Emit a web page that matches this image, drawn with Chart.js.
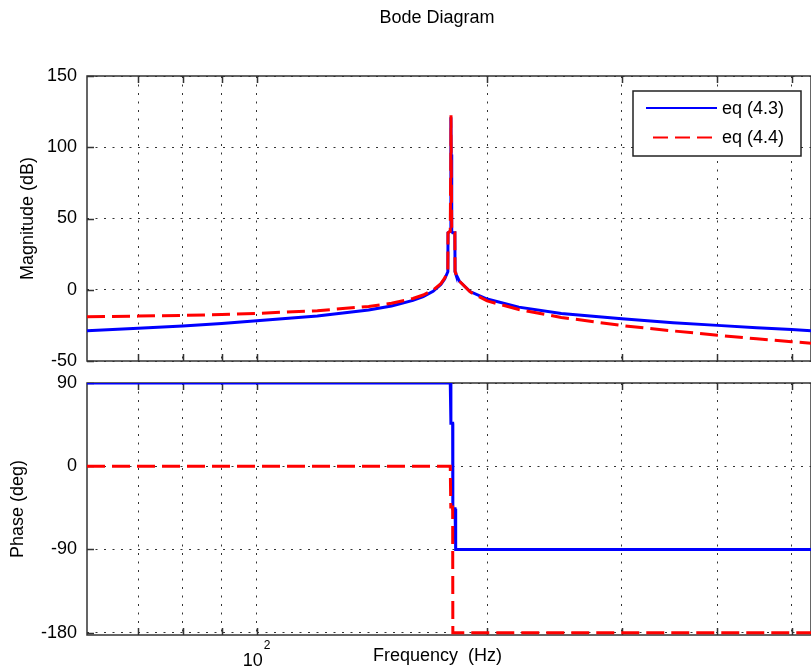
<!DOCTYPE html>
<html>
<head>
<meta charset="utf-8">
<title>Bode Diagram</title>
<script src="https://cdn.jsdelivr.net/npm/chart.js@4.4.1/dist/chart.umd.min.js"></script>
<style>
  html, body { margin: 0; padding: 0; background: #fff; overflow: hidden; }
  #wrap { position: relative; width: 811px; height: 671px; }
  #wrap canvas { position: absolute; left: 0; top: 0; }
</style>
</head>
<body>
<div id="wrap">
  <canvas id="mag-chart" width="811" height="671"></canvas>
  <canvas id="phase-chart" width="811" height="671"></canvas>
</div>
<script>
// Frequency samples (Hz)
const freqHz = [60, 70, 80, 90, 100, 120, 140, 150, 160, 165,
  170, 174, 176, 177.7, 177.8, 179.0, 179.3, 179.4, 179.5, 179.8,
  180.3, 180.4, 181.5, 181.6, 181.9, 182.0, 184, 190, 200, 220,
  250, 300, 350, 400, 450, 500, 530];

// Magnitude (dB)
const magEq43 = [-28.8, -27.1, -25.4, -23.6, -21.8, -18.5, -14.2, -11.4, -7.5, -4.8,
  -1.1, 3.7, 7.5, 12.6, 40, 41, 95, 121, 95, 41,
  40, 40, 40, 12.6, 11.6, 11.2, 6.0, -1.3, -6.5, -12.2,
  -16.6, -20.4, -23.1, -25.0, -26.6, -27.9, -28.7];
const magEq44 = [-18.9, -18.5, -18.0, -17.4, -16.6, -14.7, -11.7, -9.5, -6.1, -3.7,
  -0.2, 4.3, 8.1, 13.0, 40, 41, 95, 122.5, 95, 41,
  40, 40, 40, 13.0, 11.8, 11.4, 6.1, -1.5, -7.8, -13.9,
  -19.4, -25.1, -28.9, -31.9, -34.4, -36.5, -37.5];

// Phase (deg)
const phaseEq43 = [90, 90, 90, 90, 90, 90, 90, 90, 90, 90,
  90, 90, 90, 90, 90, 90, 46.5, 46.5, 46.5, 46.5,
  46.5, -46, -46, -46, -46, -90, -90, -90, -90, -90,
  -90, -90, -90, -90, -90, -90, -90];
const phaseEq44 = [0, 0, 0, 0, 0, 0, 0, 0, 0, 0,
  0, 0, 0, 0, 0, 0, -44, -44, -44, -44,
  -44, -180, -180, -180, -180, -180, -180, -180, -180, -180,
  -180, -180, -180, -180, -180, -180, -180];

const seriesLabels = ['eq (4.3)', 'eq (4.4)'];
const gridFreqs = [70, 80, 90, 100, 200, 300, 400, 500];
const magTicks = [-50, 0, 50, 100, 150];
const phaseTicks = [-180, -90, 0, 90];

const FONT = "'Liberation Sans', Arial, sans-serif";
const AXIS_COLOR = '#333';

function toPoints(ys) {
  return freqHz.map((f, i) => ({ x: f, y: ys[i] }));
}

function lineSet(label, ys, color, dash, order) {
  return {
    label: label,
    data: toPoints(ys),
    borderColor: color,
    borderWidth: 3,
    borderDash: dash,
    pointRadius: 0,
    tension: 0,
    fill: false,
    order: order
  };
}

// Box around the plot plus short inward tick marks (MATLAB style)
const axesFrame = {
  id: 'axesFrame',
  beforeDatasetsDraw(chart) {
    const { ctx, chartArea: a, scales } = chart;
    const tl = 7;
    ctx.save();
    ctx.strokeStyle = AXIS_COLOR;
    ctx.lineWidth = 1.5;
    ctx.strokeRect(a.left, a.top, a.right - a.left, a.bottom - a.top);
    ctx.beginPath();
    scales.x.ticks.forEach(t => {
      const px = Math.round(scales.x.getPixelForValue(t.value)) + 0.5;
      ctx.moveTo(px, a.bottom); ctx.lineTo(px, a.bottom - tl);
      ctx.moveTo(px, a.top); ctx.lineTo(px, a.top + tl);
    });
    scales.y.ticks.forEach(t => {
      const py = Math.round(scales.y.getPixelForValue(t.value)) + 0.5;
      ctx.moveTo(a.left, py); ctx.lineTo(a.left + tl, py);
    });
    ctx.stroke();
    ctx.restore();
  }
};

// Legend box in the upper right of the magnitude plot
const boxLegend = {
  id: 'boxLegend',
  afterDraw(chart) {
    const { ctx, chartArea: a } = chart;
    const left = a.right - 178, top = a.top + 15, w = 168, h = 65;
    ctx.save();
    ctx.fillStyle = '#fff';
    ctx.fillRect(left, top, w, h);
    ctx.strokeStyle = '#222';
    ctx.lineWidth = 1.5;
    ctx.strokeRect(left, top, w, h);
    ctx.font = '18px ' + FONT;
    ctx.textBaseline = 'middle';
    ctx.fillStyle = '#000';
    chart.data.datasets.forEach((ds, i) => {
      const y = top + 17 + i * 29.5;
      ctx.strokeStyle = ds.borderColor;
      ctx.lineWidth = 2;
      ctx.setLineDash(ds.borderDash.length ? [15, 7] : []);
      ctx.lineDashOffset = ds.borderDash.length ? 15 : 0;
      ctx.beginPath();
      ctx.moveTo(left + 13, y);
      ctx.lineTo(left + 84, y);
      ctx.stroke();
      ctx.setLineDash([]);
      ctx.fillText(ds.label, left + 89, y + 1);
    });
    ctx.restore();
  }
};

// Figure texts: title, x label, decade exponent
const figureText = {
  id: 'figureText',
  afterDraw(chart, args, opts) {
    const { ctx, chartArea: a } = chart;
    const cx = (a.left + a.right) / 2 - 12;
    ctx.save();
    ctx.fillStyle = '#000';
    ctx.textAlign = 'center';
    ctx.textBaseline = 'middle';
    ctx.font = '18px ' + FONT;
    if (opts.title) ctx.fillText(opts.title, cx, 18);
    if (opts.xlabel) {
      ctx.fillText(opts.xlabel, cx + 0.5, 656);
      const xs = chart.scales.x;
      ctx.textAlign = 'left';
      xs.ticks.forEach(t => {
        if (t.label !== '10') return;
        const px = xs.getPixelForValue(t.value) - 4 + ctx.measureText('10').width / 2;
        ctx.font = '12px ' + FONT;
        ctx.fillText(String(Math.round(Math.log10(t.value))), px + 1, 646);
        ctx.font = '18px ' + FONT;
      });
    }
    ctx.restore();
  }
};

const gridOpts = { color: AXIS_COLOR, lineWidth: 1, drawTicks: false };
const borderOpts = { display: false, dash: [2, 6.5] };

function xScale(showLabels) {
  return {
    type: 'logarithmic',
    min: 60,
    max: 530,
    grid: gridOpts,
    border: borderOpts,
    afterBuildTicks: s => { s.ticks = gridFreqs.map(v => ({ value: v })); },
    afterFit: s => { s.height = showLabels ? 36 : 0; },
    ticks: {
      display: showLabels,
      autoSkip: false,
      maxRotation: 0,
      padding: 15,
      labelOffset: -4,
      color: '#000',
      font: { family: FONT, size: 18 },
      callback: v => (v === 100 ? '10' : '')
    }
  };
}

function yScale(min, max, tickVals, title, titlePad) {
  return {
    min: min,
    max: max,
    grid: gridOpts,
    border: borderOpts,
    afterBuildTicks: s => { s.ticks = tickVals.map(v => ({ value: v })); },
    afterFit: s => { s.width = 87; },
    ticks: {
      padding: 10,
      color: '#000',
      font: { family: FONT, size: 18 },
      callback: v => String(v)
    },
    title: {
      display: true,
      text: title,
      color: '#000',
      font: { family: FONT, size: 18 },
      padding: { top: titlePad, bottom: 0 }
    }
  };
}

const baseOptions = {
  responsive: false,
  animation: false,
  devicePixelRatio: 1,
  plugins: { legend: { display: false }, tooltip: { enabled: false } }
};

// Magnitude plot
new Chart(document.getElementById('mag-chart'), {
  type: 'line',
  data: {
    datasets: [
      lineSet(seriesLabels[0], magEq43, '#0000ff', [], 1),
      lineSet(seriesLabels[1], magEq44, '#ff0000', [18, 7], 0)
    ]
  },
  options: Object.assign({}, baseOptions, {
    layout: { padding: { top: 76, bottom: 310, left: 0, right: 0 } },
    scales: {
      x: xScale(false),
      y: yScale(-50, 150, magTicks, 'Magnitude (dB)', 17.6)
    },
    plugins: Object.assign({}, baseOptions.plugins, {
      figureText: { title: 'Bode Diagram' }
    })
  }),
  plugins: [axesFrame, boxLegend, figureText]
});

// Phase plot
new Chart(document.getElementById('phase-chart'), {
  type: 'line',
  data: {
    datasets: [
      lineSet(seriesLabels[0], phaseEq43, '#0000ff', [], 1),
      lineSet(seriesLabels[1], phaseEq44, '#ff0000', [18, 7], 0)
    ]
  },
  options: Object.assign({}, baseOptions, {
    layout: { padding: { top: 383, bottom: 0, left: 0, right: 0 } },
    scales: {
      x: xScale(true),
      y: yScale(-182.5, 90, phaseTicks, 'Phase (deg)', 7.7)
    },
    plugins: Object.assign({}, baseOptions.plugins, {
      figureText: { xlabel: 'Frequency  (Hz)' }
    })
  }),
  plugins: [axesFrame, figureText]
});
</script>
</body>
</html>
